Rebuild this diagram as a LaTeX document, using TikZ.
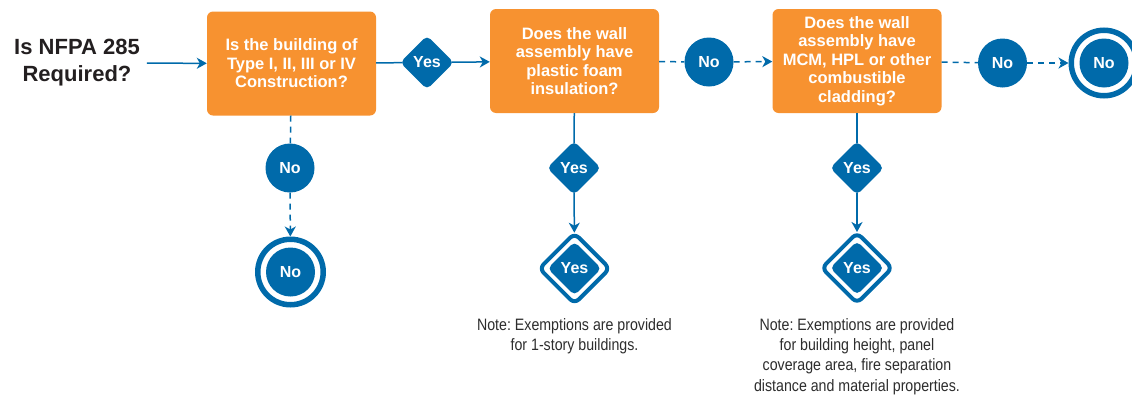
\documentclass[tikz,border=0pt]{standalone}
\usepackage{fontspec}
\setmainfont{Liberation Sans}
\newfontfamily\notefont[FakeStretch=0.86]{Liberation Sans}
\usetikzlibrary{shapes.geometric,arrows.meta,positioning}
\definecolor{boxorange}{RGB}{247,146,48}
\definecolor{codeblue}{RGB}{0,106,170}
\definecolor{titlegray}{RGB}{35,31,32}
\definecolor{notegray}{RGB}{45,45,45}
\frenchspacing

\tikzset{
    question/.style={rectangle, rounded corners=6pt, fill=boxorange, text=white, align=center,
        font=\bfseries\fontsize{16.5pt}{18.5pt}\selectfont, minimum width=169pt, minimum height=104pt, inner sep=0pt},
    nocircle/.style={circle, fill=codeblue, text=white, font=\bfseries\fontsize{16pt}{18pt}\selectfont,
        minimum size=49pt, inner sep=0pt},
    yesdiamond/.style={diamond, rounded corners=5pt, fill=codeblue, text=white, font=\bfseries\fontsize{16pt}{18pt}\selectfont,
        minimum width=54pt, minimum height=54pt, inner sep=0pt},
    noring/.style={circle, draw=codeblue, fill=white, line width=5.5pt, minimum size=65.5pt, inner sep=0pt},
    yesring/.style={diamond, rounded corners=6pt, draw=codeblue, fill=white, line width=4pt,
        minimum width=72pt, minimum height=72pt, inner sep=0pt},
    flow/.style={codeblue, line width=1.5pt},
    noflow/.style={flow, dash pattern=on 6pt off 5pt},
    note/.style={align=center, text=notegray, font=\notefont\fontsize{16.5pt}{20.3pt}\selectfont, inner sep=0pt}
}

\begin{document}
\begin{tikzpicture}[x=1pt, y=-1pt, >={Stealth[length=10pt,width=11pt,inset=3pt]}]
    \useasboundingbox (0,0) rectangle (1132,394);

    % Start question
    \node[align=center, text=titlegray, font=\bfseries\fontsize{22pt}{27pt}\selectfont, inner sep=0pt] (start) at (77,63) {Is NFPA 285\\Required?};

    % Question boxes
    \node[question] (type) at (291.5,63.5) {Is the building of\\Type I, II, III or IV\\Construction?};
    \node[question] (foam) at (574.5,61) {Does the wall\\assembly have\\plastic foam\\insulation?};
    \node[question] (clad) at (857,61) {Does the wall\\assembly have\\MCM, HPL or other\\combustible\\cladding?};

    % Answers along the top row
    \node[yesdiamond] (yesType) at (427,62.5) {Yes};
    \node[nocircle] (noFoam) at (709,62) {No};
    \node[nocircle] (noClad) at (1002.5,63) {No};
    \node[noring] (endClad) at (1104,63) {};
    \node[nocircle] at (endClad) {No};

    % Answers below the boxes
    \node[nocircle] (noType) at (290,168) {No};
    \node[noring] (endType) at (290.5,272) {};
    \node[nocircle] at (endType) {No};

    \node[yesdiamond] (yesFoam) at (574,168) {Yes};
    \node[yesring] (endFoam) at (574.5,268.5) {};
    \node[yesdiamond] at (endFoam) {Yes};

    \node[yesdiamond] (yesClad) at (857,168) {Yes};
    \node[yesring] (endClad2) at (857,268) {};
    \node[yesdiamond] at (endClad2) {Yes};

    % Notes
    \node[note, below=12pt of endFoam] (noteFoam) {Note: Exemptions are provided\\for 1-story buildings.};
    \node[note, below=12pt of endClad2] (noteClad) {Note: Exemptions are provided\\for building height, panel\\coverage area, fire separation\\distance and material properties.};

    % Top row connectors
    \draw[flow, ->, shorten <=7pt] (start) -- (type);
    \draw[flow, shorten >=-2pt] (type) -- (yesType);
    \draw[flow, ->, shorten <=-2pt] (yesType) -- (foam);
    \draw[noflow] (foam) -- (noFoam);
    \draw[noflow, ->] (noFoam) -- (clad);
    \draw[noflow] (clad) -- (noClad);
    \draw[noflow, ->] (noClad) -- (endClad);

    % Downward connectors
    \draw[noflow] (type) -- (noType);
    \draw[noflow, ->] (noType) -- (endType);
    \draw[flow, shorten >=-2pt] (foam) -- (yesFoam);
    \draw[flow, ->, shorten <=-2pt, shorten >=-2pt] (yesFoam) -- (endFoam);
    \draw[flow, shorten >=-2pt] (clad) -- (yesClad);
    \draw[flow, ->, shorten <=-2pt, shorten >=-2pt] (yesClad) -- (endClad2);
\end{tikzpicture}
\end{document}
